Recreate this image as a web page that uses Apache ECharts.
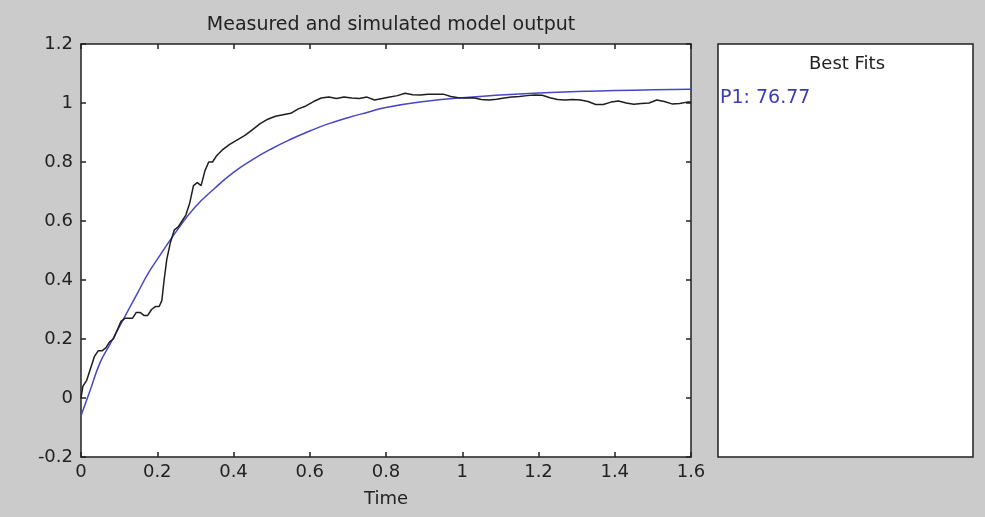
<!DOCTYPE html>
<html>
<head>
<meta charset="utf-8">
<script src="https://cdn.jsdelivr.net/npm/echarts@6/dist/echarts.min.js"></script>
<style>
  html, body { margin: 0; padding: 0; background: #cbcbcb; }
  #chart { width: 985px; height: 517px; }
</style>
</head>
<body>
<div id="chart"></div>
<script>
// measured output [time, value]
var measured = [
  [0, 0.0], [0.005, 0.04], [0.015, 0.06], [0.025, 0.1], [0.035, 0.14], [0.045, 0.16],
  [0.055, 0.16], [0.065, 0.17], [0.075, 0.19], [0.085, 0.2], [0.095, 0.23], [0.105, 0.26],
  [0.115, 0.27], [0.125, 0.27], [0.135, 0.27], [0.145, 0.29], [0.155, 0.29], [0.165, 0.28],
  [0.175, 0.28], [0.185, 0.3], [0.195, 0.31], [0.205, 0.31], [0.212, 0.33], [0.218, 0.4],
  [0.225, 0.47], [0.235, 0.53], [0.245, 0.57], [0.255, 0.58], [0.265, 0.6], [0.275, 0.62],
  [0.285, 0.66], [0.295, 0.72], [0.305, 0.73], [0.315, 0.72], [0.325, 0.77], [0.335, 0.8],
  [0.345, 0.8], [0.355, 0.82], [0.37, 0.84], [0.39, 0.86], [0.41, 0.875], [0.43, 0.89],
  [0.45, 0.91], [0.47, 0.93], [0.49, 0.945], [0.51, 0.955], [0.53, 0.96], [0.55, 0.965],
  [0.57, 0.98], [0.59, 0.99], [0.61, 1.005], [0.63, 1.017], [0.65, 1.02], [0.67, 1.015],
  [0.69, 1.02], [0.71, 1.017], [0.73, 1.015], [0.75, 1.02], [0.77, 1.01], [0.79, 1.015],
  [0.81, 1.02], [0.83, 1.025], [0.85, 1.033], [0.87, 1.028], [0.89, 1.027], [0.91, 1.03],
  [0.93, 1.03], [0.95, 1.03], [0.97, 1.022], [0.99, 1.018], [1.01, 1.017], [1.03, 1.018],
  [1.05, 1.012], [1.07, 1.01], [1.09, 1.013], [1.11, 1.017], [1.13, 1.02], [1.15, 1.022],
  [1.17, 1.025], [1.19, 1.027], [1.21, 1.026], [1.23, 1.018], [1.25, 1.012], [1.27, 1.01],
  [1.29, 1.012], [1.31, 1.01], [1.33, 1.005], [1.35, 0.995], [1.37, 0.995], [1.39, 1.003],
  [1.41, 1.007], [1.43, 1.0], [1.45, 0.996], [1.47, 0.998], [1.49, 1.0], [1.51, 1.01],
  [1.53, 1.005], [1.55, 0.997], [1.57, 0.998], [1.59, 1.003], [1.6, 1.003]
];

// simulated model output [time, value]
var simulated = [
  [0, -0.06], [0.025, 0.03], [0.05, 0.12], [0.075, 0.18], [0.1, 0.24], [0.125, 0.3],
  [0.15, 0.36], [0.175, 0.42], [0.2, 0.47], [0.25, 0.565], [0.3, 0.648], [0.35, 0.71],
  [0.4, 0.765], [0.45, 0.808], [0.5, 0.845], [0.55, 0.877], [0.6, 0.905], [0.65, 0.93],
  [0.7, 0.95], [0.75, 0.968], [0.8, 0.985], [0.9, 1.005], [1.0, 1.018], [1.1, 1.027],
  [1.2, 1.034], [1.3, 1.039], [1.4, 1.042], [1.5, 1.045], [1.6, 1.047]
];

var chartTitle = 'Measured and simulated model output';
var fitsTitle = 'Best Fits';
var fitLabel = 'P1: 76.77';

var font = 'DejaVu Sans';
var chart = echarts.init(document.getElementById('chart'));

var axisLine = { show: true, onZero: false, lineStyle: { color: '#222', width: 1.5 } };
var axisTick = { show: true, inside: true, length: 5, lineStyle: { color: '#222', width: 1.5 } };

chart.setOption({
  backgroundColor: '#cbcbcb',
  animation: false,
  title: {
    text: chartTitle,
    left: 386,
    textAlign: 'center',
    top: 11,
    textStyle: { fontFamily: font, fontSize: 19, fontWeight: 'normal', color: '#222' }
  },
  grid: {
    left: 81, top: 44, width: 610, height: 413,
    show: true, backgroundColor: '#fff', borderWidth: 0
  },
  xAxis: [{
    type: 'value', min: 0, max: 1.6, interval: 0.2, position: 'bottom',
    name: 'Time', nameLocation: 'middle', nameGap: 33,
    nameTextStyle: { fontFamily: font, fontSize: 18, color: '#222' },
    axisLine: axisLine, axisTick: axisTick, splitLine: { show: false },
    axisLabel: { fontFamily: font, fontSize: 18, color: '#222', margin: 6 }
  }, {
    type: 'value', min: 0, max: 1.6, interval: 0.2, position: 'top',
    axisLine: axisLine, axisTick: axisTick, splitLine: { show: false },
    axisLabel: { show: false }
  }],
  yAxis: [{
    type: 'value', min: -0.2, max: 1.2, interval: 0.2, position: 'left',
    axisLine: axisLine, axisTick: axisTick, splitLine: { show: false },
    axisLabel: { fontFamily: font, fontSize: 18, color: '#222', margin: 8 }
  }, {
    type: 'value', min: -0.2, max: 1.2, interval: 0.2, position: 'right',
    axisLine: axisLine, axisTick: axisTick, splitLine: { show: false },
    axisLabel: { show: false }
  }],
  series: [{
    name: 'Simulated', type: 'line', data: simulated, smooth: true,
    showSymbol: false, lineStyle: { color: '#4747c4', width: 1.5 }
  }, {
    name: 'Measured', type: 'line', data: measured,
    showSymbol: false, lineStyle: { color: '#1e1e1e', width: 1.5 }
  }],
  graphic: [{
    type: 'rect', shape: { x: 718, y: 44, width: 255, height: 413 },
    style: { fill: '#fff', stroke: '#222', lineWidth: 1.5 }
  }, {
    type: 'text', x: 847, y: 64,
    style: { text: fitsTitle, font: '18px "DejaVu Sans"', fill: '#222', align: 'center', verticalAlign: 'middle' }
  }, {
    type: 'text', x: 720, y: 98,
    style: { text: fitLabel, font: '19px "DejaVu Sans"', fill: '#3c3cb4', align: 'left', verticalAlign: 'middle' }
  }]
});
</script>
</body>
</html>
